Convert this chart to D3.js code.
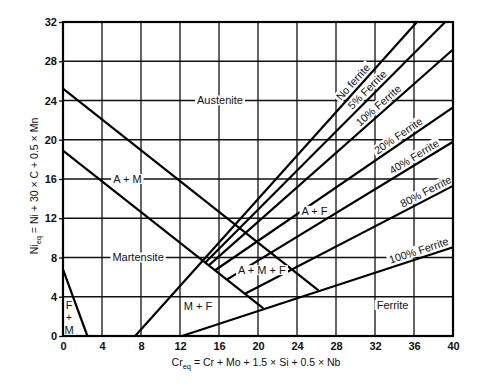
<!DOCTYPE html>
<html><head><meta charset="utf-8">
<script src="https://cdn.jsdelivr.net/npm/d3@7"></script>
<style>body{margin:0;background:#fff}text{font-family:"Liberation Sans",Arial,Helvetica,sans-serif;fill:#111}</style>
</head><body><svg id="c" width="500" height="390"></svg>
<script>
const xTicks=[0,4,8,12,16,20,24,28,32,36,40];
const yTicks=[0,4,8,12,16,20,24,28,32];
const phaseLineNames=["A / A+M","A+M / M","F+M"];
const phaseLineStart=[[0,25.2],[0,18.9],[0,6.8]];
const phaseLineEnd=[[26.2,4.65],[20.55,2.82],[2.5,0]];
const ferriteNames=["No ferrite","5% Ferrite","10% Ferrite","20% Ferrite","40% Ferrite","80% Ferrite","100% Ferrite"];
const ferriteStart=[[7.4,0],[14.6,7.5],[14.95,7.2],[15.6,6.7],[16.8,5.75],[18.67,4.3],[12.2,0]];
const ferriteEnd=[[36.3,32],[39.2,32],[40,29.2],[40,23.3],[40,19.8],[40,15.3],[40,9.05]];
const ferriteLabelX=[29.85,31.2,32.3,34.46,36.0,37.13,36.5];
const ferriteLabelY=[25.8,25.1,23.57,20.3,18.27,14.9,8.67];
const regionNames=["Austenite","A + M","Martensite","A + M + F","A + F","M + F","Ferrite"];
const regionX=[16.1,6.6,7.7,20.4,25.8,13.85,33.8];
const regionY=[24,16,8,6.7,12.75,3.06,3.15];
const fmLetters=["F","+","M"];
const fmY=[3.2,1.9,0.65];

const svg=d3.select("#c");
const x=d3.scaleLinear().domain([0,40]).range([63,453]);
const y=d3.scaleLinear().domain([0,32]).range([336,22]);

const g=svg.append("g");
g.selectAll(".gx").data(xTicks).join("line").attr("x1",d=>x(d)).attr("x2",d=>x(d)).attr("y1",y(0)).attr("y2",y(32)).attr("stroke","#111").attr("stroke-width",1.3);
g.selectAll(".gy").data(yTicks).join("line").attr("y1",d=>y(d)).attr("y2",d=>y(d)).attr("x1",x(0)).attr("x2",x(40)).attr("stroke","#111").attr("stroke-width",1.3);

const ax=svg.append("g").attr("transform",`translate(0,${y(0)})`).call(d3.axisBottom(x).tickValues(xTicks).tickSize(0).tickPadding(6).tickFormat(d3.format("d")));
const ay=svg.append("g").attr("transform",`translate(${x(0)},0)`).call(d3.axisLeft(y).tickValues(yTicks).tickSize(4).tickPadding(2).tickFormat(d3.format("d")));
[ax,ay].forEach(a=>{a.select(".domain").remove();a.selectAll("text").attr("font-size",11).attr("font-weight","bold").attr("font-family",'"Liberation Sans",Arial,sans-serif').attr("fill","#111");a.selectAll("line").attr("stroke","#111").attr("stroke-width",1.3);});

const fbg=svg.append("g");
const lines=svg.append("g");

lines.selectAll(".pl").data(phaseLineNames).join("line")
 .attr("x1",(d,i)=>x(phaseLineStart[i][0])).attr("y1",(d,i)=>y(phaseLineStart[i][1]))
 .attr("x2",(d,i)=>x(phaseLineEnd[i][0])).attr("y2",(d,i)=>y(phaseLineEnd[i][1]))
 .attr("stroke","#000").attr("stroke-width",2.2);
lines.selectAll(".fl").data(ferriteNames).join("line")
 .attr("x1",(d,i)=>x(ferriteStart[i][0])).attr("y1",(d,i)=>y(ferriteStart[i][1]))
 .attr("x2",(d,i)=>x(ferriteEnd[i][0])).attr("y2",(d,i)=>y(ferriteEnd[i][1]))
 .attr("stroke","#000").attr("stroke-width",2.2);

svg.append("rect").attr("x",x(0)).attr("y",y(32)).attr("width",x(40)-x(0)).attr("height",y(0)-y(32)).attr("fill","none").attr("stroke","#000").attr("stroke-width",2.2);

const rl=svg.append("g");
regionNames.forEach((n,i)=>{
  const t=rl.append("text").attr("x",x(regionX[i])).attr("y",y(regionY[i])).attr("dy","0.36em").attr("text-anchor","middle").attr("font-size",11).text(n);
  const b=t.node().getBBox();
  rl.insert("rect","text").attr("x",b.x-2).attr("y",b.y+1).attr("width",b.width+4).attr("height",b.height-2).attr("fill","#fff");
});
fmLetters.forEach((n,i)=>{
  rl.append("text").attr("x",x(0.62)).attr("y",y(fmY[i])).attr("dy","0.36em").attr("text-anchor","middle").attr("font-size",n==="+"?10:11).text(n);
});

const fl=svg.append("g");
const OFF=7.5;
ferriteNames.forEach((n,i)=>{
  const sx=x(ferriteStart[i][0]),sy=y(ferriteStart[i][1]),ex=x(ferriteEnd[i][0]),ey=y(ferriteEnd[i][1]);
  const dx=ex-sx,dy=ey-sy,L=Math.hypot(dx,dy),ux=dx/L,uy=dy/L;
  const px=x(ferriteLabelX[i]),py=y(ferriteLabelY[i]);
  const t0=(px-sx)*ux+(py-sy)*uy;
  const fx=sx+ux*t0+uy*OFF, fy=sy+uy*t0-ux*OFF;
  const a=Math.atan2(dy,dx)*180/Math.PI;
  const tr=`translate(${fx},${fy}) rotate(${a})`;
  const t=fl.append("text").attr("transform",tr).attr("dy","0.35em").attr("text-anchor","middle").attr("font-size",10.8).text(n);
  const b=t.node().getBBox();
  fbg.append("rect").attr("transform",tr).attr("x",b.x-2).attr("y",b.y+0.5).attr("width",b.width+4).attr("height",b.height-1).attr("fill","#fff");
});

const xt=svg.append("text").attr("x",256).attr("y",366).attr("text-anchor","middle").attr("font-size",10.5);
xt.append("tspan").text("Cr");
xt.append("tspan").attr("font-size",7.5).attr("dy",3).text("eq");
xt.append("tspan").attr("dy",-3).text(" = Cr + Mo + 1.5 × Si + 0.5 × Nb");
const yt=svg.append("text").attr("transform","translate(38,186) rotate(-90)").attr("text-anchor","middle").attr("font-size",10.5);
yt.append("tspan").text("Ni");
yt.append("tspan").attr("font-size",7.5).attr("dy",3).text("eq");
yt.append("tspan").attr("dy",-3).text(" = Ni + 30 × C + 0.5 × Mn");
</script></body></html>
